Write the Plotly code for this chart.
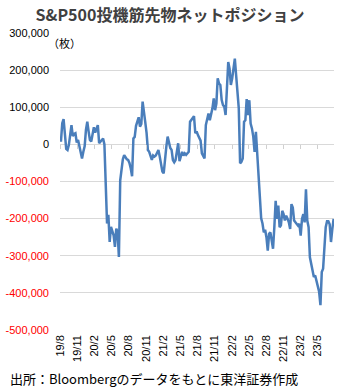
import plotly.graph_objects as go
import pandas as pd

# ---------------- data ----------------
start_date = "2019-08-06"  # weekly (Tuesday) observations

# Net speculative position, thousands of contracts
net_position_k = [
    7, 57, 68, 20, -12, -15, -2, 25, 52, 22,
    28, 30, 5, 12, -5, -20, -38, -20, -5, 40,
    61, 35, 12, 8, 30, 46, 32, 40, 52, 3,
    8, 12, 16, 0, -105, -213, -190, -263, -222, -235,
    -245, -276, -227, -235, -303, -97, -60, -40, -29, -35,
    -40, -42, -50, -65, -86, 16, 20, 50, 61, 73,
    48, 55, 115, 80, 60, 31, -15, -20, -35, -42,
    -30, -33, -30, -22, -15, -33, -50, -73, -78, -30,
    -6, 21, 3, -10, -15, -42, -48, -42, -20, 3,
    -45, -33, -20, -30, -24, -28, -25, -20, 61, 66,
    72, 76, 30, 35, 25, 17, 10, -24, -33, -38,
    52, 70, 83, 65, 80, 97, 124, 92, 110, 178,
    164, 160, 120, 106, 101, 79, 150, 222, 204, 160,
    178, 213, 231, 186, 141, 97, -51, -47, -38, 61,
    65, 122, 79, 119, 56, 43, 21, -20, 34, -29,
    -91, -154, -199, -213, -237, -230, -250, -286, -241, -237,
    -265, -281, -223, -152, -201, -165, -223, -218, -179, -188,
    -205, -192, -200, -210, -228, -161, -170, -205, -210, -214,
    -219, -214, -246, -201, -188, -210, -121, -205, -223, -304,
    -321, -340, -357, -353, -366, -384, -397, -433, -344, -335,
    -268, -223, -207, -207, -215, -263, -228, -201,
]

tick_dates = [
    "2019-08-01", "2019-11-01", "2020-02-01", "2020-05-01", "2020-08-01",
    "2020-11-01", "2021-02-01", "2021-05-01", "2021-08-01", "2021-11-01",
    "2022-02-01", "2022-05-01", "2022-08-01", "2022-11-01", "2023-02-01",
    "2023-05-01",
]
tick_labels = [
    "19/8", "19/11", "20/2", "20/5", "20/8", "20/11", "21/2", "21/5",
    "21/8", "21/11", "22/2", "22/5", "22/8", "22/11", "23/2", "23/5",
]
y_ticks_pos = [300000, 200000, 100000, 0]
y_ticks_neg = [-100000, -200000, -300000, -400000, -500000]

title_text = "S&P500投機筋先物ネットポジション"
unit_text = "（枚）"
source_text = "出所：Bloombergのデータをもとに東洋証券作成"

# ---------------- build ----------------
dates = pd.date_range(start_date, periods=len(net_position_k), freq="7D")
net_position = [v * 1000 for v in net_position_k]
y_range = [y_ticks_neg[-1], y_ticks_pos[0]]

W, H = 340, 390
ML, MR, MT, MB = 57, 6, 33, 60
PW = W - ML - MR
PH = H - MT - MB

def px_x(px):
    return (px - ML) / PW

def px_y(py):
    return (H - MB - py) / PH

fig = go.Figure()
fig.add_trace(go.Scatter(
    x=dates, y=net_position, mode="lines",
    line=dict(color="#4A7EBB", width=2.5),
    hoverinfo="skip", showlegend=False,
))
# helper traces so the overlay axes are drawn
fig.add_trace(go.Scatter(
    x=dates[:1], y=[None], xaxis="x2", mode="lines",
    showlegend=False, hoverinfo="skip",
))
fig.add_trace(go.Scatter(
    x=dates[:1], y=[None], yaxis="y2", mode="lines",
    showlegend=False, hoverinfo="skip",
))

label_font = dict(family="Liberation Sans", size=11, color="#000000")
x_range = ["2019-08-01", "2023-07-27"]
fig.update_layout(
    width=W, height=H,
    margin=dict(l=ML, r=MR, t=MT, b=MB, pad=0),
    paper_bgcolor="white", plot_bgcolor="white",
    title=dict(
        text=f"<b>{title_text}</b>",
        x=0.5, xref="container", xanchor="center",
        y=1 - 15 / H, yanchor="middle",
        font=dict(family="Noto Sans CJK JP", size=16, color="#404040"),
    ),
    xaxis=dict(
        type="date", range=x_range,
        tickmode="array", tickvals=tick_dates, ticktext=tick_labels,
        tickangle=-90, ticks="", showgrid=False, zeroline=False, showline=False,
        tickfont=label_font,
        ticklabelstandoff=2,
    ),
    xaxis2=dict(
        type="date", matches="x", overlaying="x", anchor="free",
        position=(0 - y_range[0]) / (y_range[1] - y_range[0]),
        tickmode="array", tickvals=tick_dates, showticklabels=False,
        ticks="outside", ticklen=4, tickwidth=1, tickcolor="#D0D0D0",
        showgrid=False, zeroline=False, showline=False,
    ),
    yaxis=dict(
        range=y_range,
        tickmode="array", tickvals=y_ticks_pos + y_ticks_neg,
        ticktext=[f"{v:,}" if v >= 0 else "" for v in y_ticks_pos + y_ticks_neg],
        ticks="", showgrid=True, gridcolor="#D9D9D9", gridwidth=1,
        zeroline=False, showline=False,
        tickfont=label_font,
        ticklabelstandoff=10,
    ),
    yaxis2=dict(
        range=y_range, overlaying="y", side="left", anchor="x",
        tickmode="array", tickvals=y_ticks_neg,
        ticktext=[f"{v:,}" for v in y_ticks_neg],
        ticks="", showgrid=False, zeroline=False, showline=False,
        tickfont=dict(family="Liberation Sans", size=11, color="#FF0000"),
        ticklabelstandoff=10,
    ),
    annotations=[
        dict(
            text=unit_text, xref="paper", yref="paper",
            x=px_x(43), y=px_y(43), xanchor="left", yanchor="middle",
            showarrow=False,
            font=dict(family="Noto Sans CJK JP", size=11, color="#000000"),
        ),
        dict(
            text=source_text, xref="paper", yref="paper",
            x=px_x(4), y=px_y(378), xanchor="left", yanchor="middle",
            showarrow=False,
            font=dict(family="Noto Sans CJK JP", size=13, color="#000000"),
        ),
    ],
)

fig.write_html("out.html")
